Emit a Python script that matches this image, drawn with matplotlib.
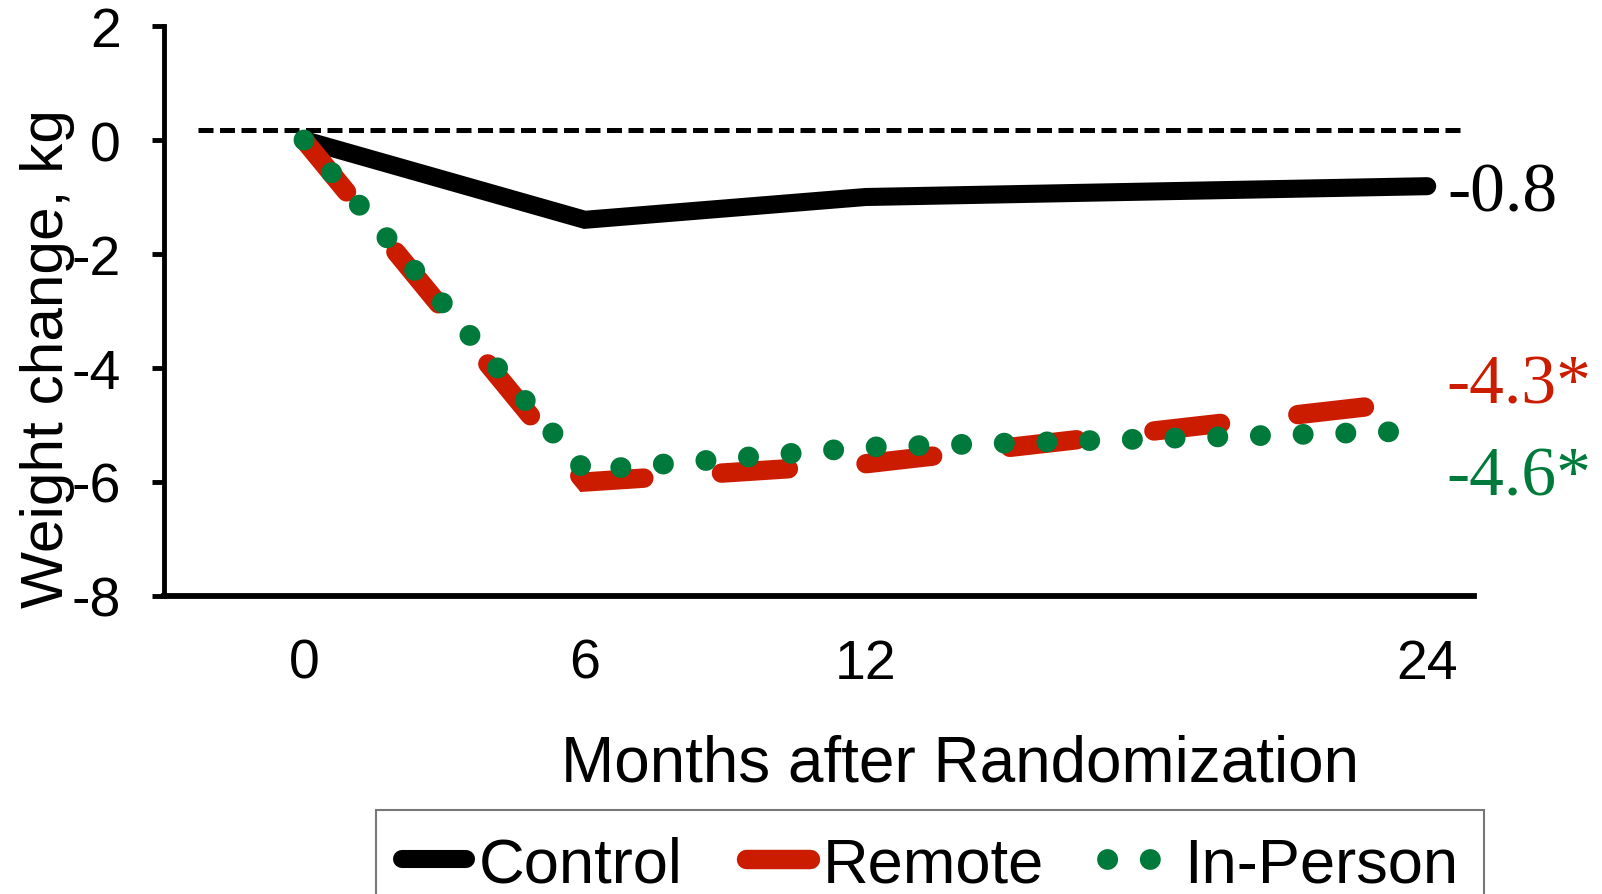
import matplotlib
matplotlib.use("Agg")
import matplotlib.pyplot as plt
from matplotlib.lines import Line2D

plt.rcParams["font.family"] = ["Liberation Sans", "DejaVu Sans"]
plt.rcParams["axes.unicode_minus"] = False

# values
months = [0, 6, 12, 24]
control = [0, -1.4, -1.0, -0.81]
remote = [0, -6.0, -5.68, -4.56]
in_person = [0, -5.8, -5.39, -5.1]
end_labels = ["-0.8", "-4.3*", "-4.6*"]
yticks = [2, 0, -2, -4, -6, -8]

black = "#000000"
red = "#CC1C00"
green = "#007A3B"

fig = plt.figure(figsize=(16.02, 8.95), dpi=100)
ax = fig.add_axes([0.1021, 0.333, 0.818, 0.6368])

# reference line
ax.plot([-2.26, 24.83], [0.18, 0.18], color="black", lw=3.6,
        linestyle=(0, (3, 1.3)), solid_capstyle="butt", zorder=1)

ax.plot(months, control, color=black, lw=13, solid_capstyle="round",
        solid_joinstyle="miter", zorder=3)
ax.plot(months, remote, color=red, lw=14, linestyle=(0, (3.45, 4.0)),
        dash_capstyle="round", dash_joinstyle="miter", zorder=3)
ax.plot(months, in_person, color=green, lw=15, linestyle=(0, (0.01, 2.04)),
        dash_capstyle="round", zorder=4)

# labels at the right end
ax.text(24.43, -0.95, end_labels[0], color=black, fontsize=50,
        family="Liberation Serif", va="center", ha="left", clip_on=False)
ax.text(24.40, -4.32, end_labels[1], color=red, fontsize=50,
        family="Liberation Serif", va="center", ha="left", clip_on=False)
ax.text(24.40, -5.93, end_labels[2], color=green, fontsize=50,
        family="Liberation Serif", va="center", ha="left", clip_on=False)

ax.set_xlim(-3, 25)
ax.set_ylim(-8, 2)
ax.set_xticks(months)
ax.set_xticklabels([str(m) for m in months])
ax.set_yticks(yticks)
ax.set_yticklabels([str(t) for t in yticks])
ax.tick_params(axis="x", length=0, pad=30, labelsize=40)
ax.tick_params(axis="y", length=9, width=3.5, pad=22, labelsize=40,
               direction="out")

for side in ["top", "right"]:
    ax.spines[side].set_visible(False)
ax.spines["left"].set_linewidth(3.5)
ax.spines["bottom"].set_linewidth(4.2)

fig.text(0.5995, 1 - 765 / 895, "Months after Randomization", fontsize=46,
         ha="center", va="center")
fig.text(0.0297, 0.5994, "Weight change, kg", fontsize=43.5, rotation=90,
         ha="center", va="center")

handles = [
    Line2D([], [], color=black, lw=13, solid_capstyle="round"),
    Line2D([], [], color=red, lw=14, solid_capstyle="round"),
    Line2D([], [], color=green, lw=15, linestyle=(0, (0.01, 2.04)),
           dash_capstyle="round"),
]
leg = fig.legend(handles, ["Control", "Remote", "In-Person"], ncol=3,
                 loc="upper center", bbox_to_anchor=(930 / 1602, 1 - 811 / 895),
                 fontsize=45.5, frameon=True, fancybox=False, borderpad=0.4,
                 handlelength=1.02, handletextpad=0.2, columnspacing=1.0,
                 borderaxespad=0)
leg.get_frame().set_edgecolor("#555555")
leg.get_frame().set_linewidth(1.5)

fig.savefig("out.png", dpi=100)
